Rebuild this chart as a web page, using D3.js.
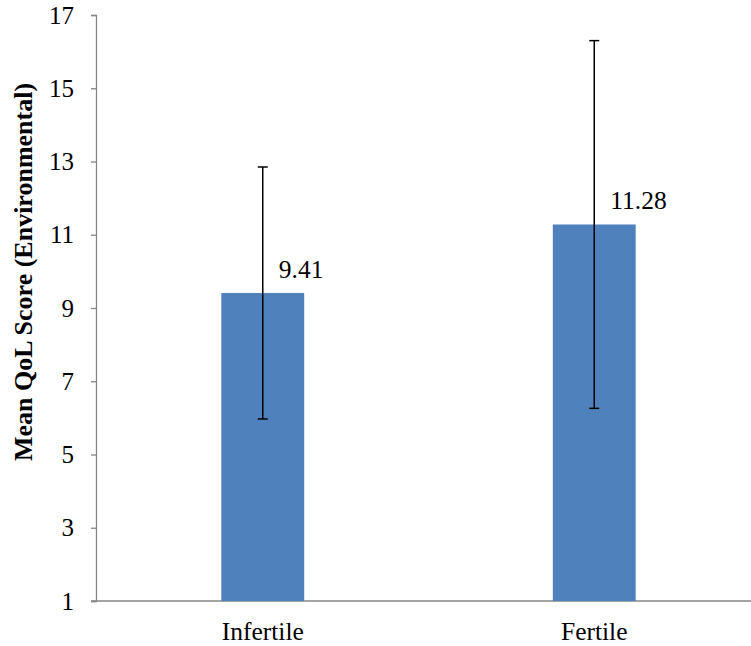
<!DOCTYPE html>
<html><head><meta charset="utf-8">
<script src="https://cdnjs.cloudflare.com/ajax/libs/d3/7.8.5/d3.min.js"></script>
<style>body{margin:0;background:#fff}svg{display:block}text{font-family:"Liberation Serif","Times New Roman",serif;fill:#000}</style>
</head><body>
<script>
const categories = ["Infertile", "Fertile"];
const means = [9.41, 11.28];
const errors = [3.44, 5.02];
const yTicks = [1, 3, 5, 7, 9, 11, 13, 15, 17];
const yTitle = "Mean QoL Score (Environmental)";

const W = 751, H = 646;
const svg = d3.select("body").append("svg").attr("width", W).attr("height", H);

const y = d3.scaleLinear().domain([1, 17]).range([601, 15]);
const x = d3.scaleBand().domain(categories).range([97, 760]).paddingInner(0).paddingOuter(0);
const barW = x.bandwidth() * 0.25;
const axisColor = "#868686";

// y axis
const yAxis = svg.append("g").attr("transform", "translate(96,0)")
  .call(d3.axisLeft(y).tickValues(yTicks).tickSize(5).tickPadding(17).tickFormat(d3.format("d")));
yAxis.attr("font-size", null).attr("font-family", null);
yAxis.select(".domain").attr("stroke", axisColor).attr("stroke-width", 1.3);
yAxis.selectAll(".tick line").attr("stroke", axisColor).attr("stroke-width", 1.3);
yAxis.selectAll(".tick text").style("font-size", "25px").style("font-family", "'Liberation Serif', serif").attr("fill", "#000");

// x axis line
svg.append("line").attr("x1", 91).attr("x2", W).attr("y1", y(1)).attr("y2", y(1))
  .attr("stroke", axisColor).attr("stroke-width", 1.3);

// bars
const data = categories.map((c, i) => ({c, m: means[i], e: errors[i]}));
svg.selectAll("rect.bar").data(data).join("rect").attr("class", "bar")
  .attr("x", d => x(d.c) + x.bandwidth() / 2 - barW / 2)
  .attr("width", barW)
  .attr("y", d => y(d.m))
  .attr("height", d => y(1) - y(d.m))
  .attr("fill", "#4F81BD");

// error bars
const eb = svg.selectAll("g.err").data(data).join("g").attr("class", "err")
  .attr("transform", d => `translate(${x(d.c) + x.bandwidth() / 2},0)`);
eb.append("line").attr("y1", d => y(d.m + d.e)).attr("y2", d => y(d.m - d.e))
  .attr("stroke", "#000").attr("stroke-width", 1.5);
eb.append("line").attr("x1", -5).attr("x2", 5).attr("y1", d => y(d.m + d.e)).attr("y2", d => y(d.m + d.e))
  .attr("stroke", "#000").attr("stroke-width", 1.5);
eb.append("line").attr("x1", -5).attr("x2", 5).attr("y1", d => y(d.m - d.e)).attr("y2", d => y(d.m - d.e))
  .attr("stroke", "#000").attr("stroke-width", 1.5);

// value labels
svg.selectAll("text.val").data(data).join("text").attr("class", "val")
  .attr("x", d => x(d.c) + x.bandwidth() / 2 + 16)
  .attr("y", d => y(d.m) - 15)
  .style("font-size", "25.5px")
  .text(d => d.m.toFixed(2));

// category labels
svg.selectAll("text.cat").data(categories).join("text").attr("class", "cat")
  .attr("x", d => x(d) + x.bandwidth() / 2)
  .attr("y", 640)
  .attr("text-anchor", "middle")
  .style("font-size", "25.5px")
  .text(d => d);

// y title
svg.append("text")
  .attr("transform", "translate(32,272) rotate(-90)")
  .attr("text-anchor", "middle")
  .style("font-size", "26px")
  .attr("font-weight", "bold")
  .text(yTitle);
</script>
</body></html>
